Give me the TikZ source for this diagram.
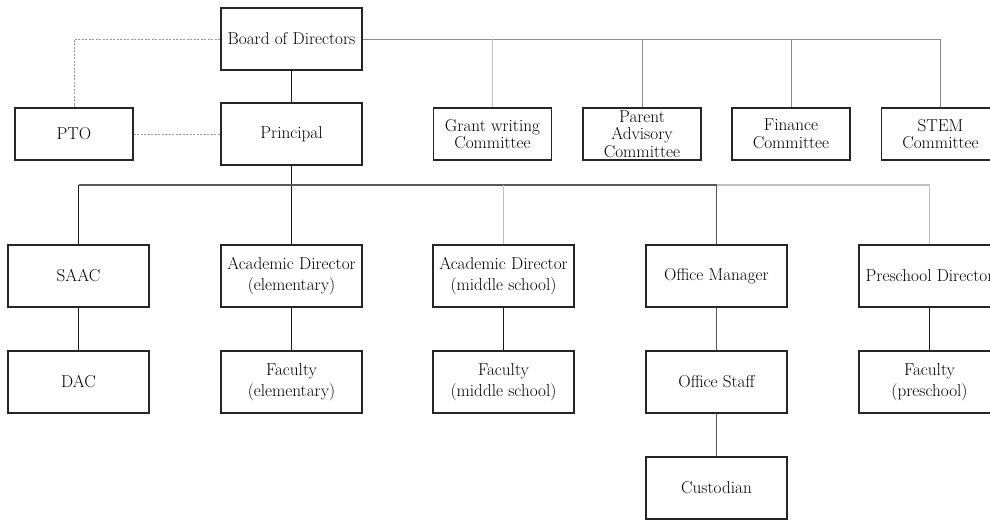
\documentclass[tikz,border=0pt]{standalone}
\begin{document}
\begin{tikzpicture}[x=1pt,y=-1pt]
\tikzset{
  box/.style={draw=black!85, line width=1.2pt, minimum width=141pt, minimum height=62pt,
    align=center, inner sep=1pt, font=\fontsize{17.2}{21}\selectfont},
  sbox/.style={box, minimum width=118pt, minimum height=52pt},
  tight/.style={font=\fontsize{17.2}{17.5}\selectfont},
  blackline/.style={draw=black!90, line width=1.1pt},
  darkline/.style={draw=black!65, line width=1.5pt},
  lightline/.style={draw=black!25, line width=1.1pt},
  grayline/.style={draw=black!45, line width=0.9pt},
  dashgray/.style={draw=black!40, line width=0.7pt, dash pattern=on 2pt off 1.5pt},
}
\useasboundingbox (0,0) rectangle (990,520);
\fill[white] (0,0) rectangle (990,520);
% top rows
\node[box] (board) at (291.5,39) {Board of Directors};
\node[sbox] (pto) at (74,134) {PTO};
\node[box] (principal) at (291.5,134) {Principal};
\node[sbox, tight] (grant) at (492.5,134) {Grant writing\\Committee};
\node[sbox, tight] (parent) at (642,134) {Parent\\Advisory\\Committee};
\node[sbox, tight] (finance) at (791,134) {Finance\\Committee};
\node[sbox, tight] (stem) at (940.5,134) {STEM\\Committee};
% row 2
\node[box] (saac) at (78.5,276) {SAAC};
\node[box] (acel) at (291.5,276) {Academic Director\\(elementary)};
\node[box] (acmid) at (503.5,276) {Academic Director\\(middle school)};
\node[box] (offm) at (716.5,276) {Office Manager};
\node[box] (presch) at (929.5,276) {Preschool Director};
% row 3
\node[box] (dac) at (78.5,382) {DAC};
\node[box] (facel) at (291.5,382) {Faculty\\(elementary)};
\node[box] (facmid) at (503.5,382) {Faculty\\(middle school)};
\node[box] (offs) at (716.5,382) {Office Staff};
\node[box] (facpre) at (929.5,382) {Faculty\\(preschool)};
% row 4
\node[box] (cust) at (716.5,488) {Custodian};
% board connectors
\draw[blackline] (board) -- (principal);
\draw[dashgray] (board.west) -| (pto.north);
\draw[dashgray] (pto) -- (principal);
\draw[grayline] (board.east) -- (stem.north |- board.east) -- (stem.north);
\draw[lightline] (grant.north |- board.east) -- (grant.north);
\draw[grayline] (parent.north |- board.east) -- (parent.north);
\draw[grayline] (finance.north |- board.east) -- (finance.north);
% principal bus
\coordinate (busy) at (0,185);
\draw[blackline] (principal.south) -- (principal.south |- busy) -- (acel.north);
\draw[darkline] (saac.north |- busy) -- (offm.north |- busy);
\draw[blackline] (saac.north) -- (saac.north |- busy);
\draw[darkline] (offm.north |- busy) -- (offm.north);
\draw[lightline] (offm.north |- busy) -- (presch.north |- busy) -- (presch.north);
\draw[lightline] (acmid.north |- busy) -- (acmid.north);
% columns
\draw[blackline] (saac) -- (dac);
\draw[blackline] (acel) -- (facel);
\draw[blackline] (acmid) -- (facmid);
\draw[darkline] (offm) -- (offs);
\draw[darkline] (offs) -- (cust);
\draw[blackline] (presch) -- (facpre);
\end{tikzpicture}
\end{document}
